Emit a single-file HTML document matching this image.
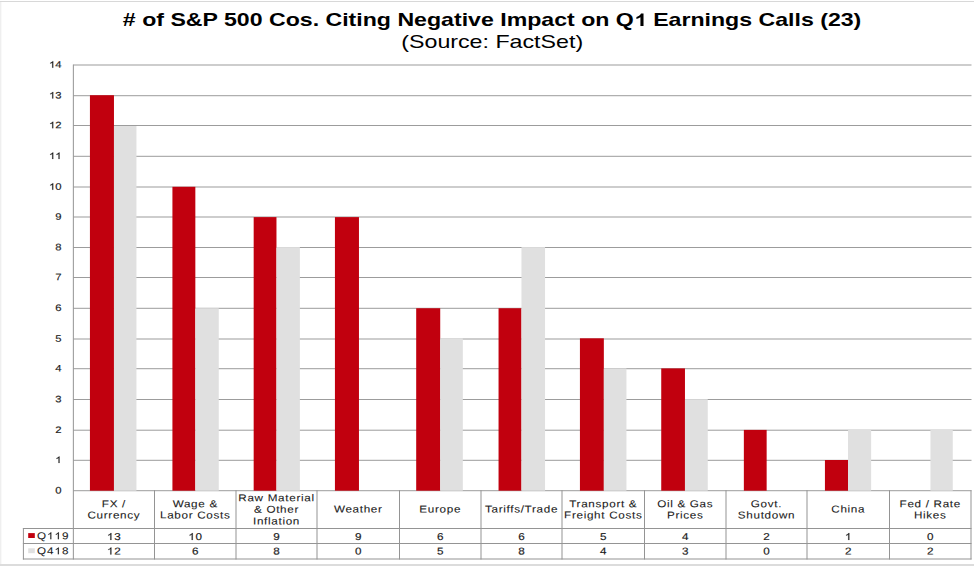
<!DOCTYPE html>
<html><head><meta charset="utf-8"><style>
html,body{margin:0;padding:0;background:#fff;width:974px;height:567px;overflow:hidden}
svg{display:block}
text{font-family:"Liberation Sans",sans-serif;fill:#1a1a1a}
.t9{font-size:9.4px;stroke:#1a1a1a;stroke-width:0.15px}
.t10{font-size:10px;stroke:#1a1a1a;stroke-width:0.08px;letter-spacing:0.58px}
.tt{font-size:18px;font-weight:bold;fill:#000}
.ts{font-size:18px;fill:#000}
.num{stroke-width:0.16px}
.h1{fill-opacity:0;stroke-opacity:0}
</style></head><body>
<svg width="974" height="567" viewBox="0 0 974 567">
<rect x="0" y="1" width="974" height="1" fill="#d8d8d8"/>
<rect x="0" y="2" width="1.4" height="562" fill="#efefef"/>
<rect x="0" y="564.1" width="974" height="1.8" fill="#d9d9d9"/>
<rect x="73.35" y="490.20" width="898.15" height="1" fill="#9c9c9c"/>
<rect x="73.35" y="459.80" width="898.15" height="1" fill="#9c9c9c"/>
<rect x="73.35" y="429.70" width="898.15" height="1" fill="#9c9c9c"/>
<rect x="73.35" y="399.00" width="898.15" height="1" fill="#9c9c9c"/>
<rect x="73.35" y="368.20" width="898.15" height="1" fill="#9c9c9c"/>
<rect x="73.35" y="338.50" width="898.15" height="1" fill="#9c9c9c"/>
<rect x="73.35" y="307.80" width="898.15" height="1" fill="#9c9c9c"/>
<rect x="73.35" y="277.00" width="898.15" height="1" fill="#9c9c9c"/>
<rect x="73.35" y="247.00" width="898.15" height="1" fill="#9c9c9c"/>
<rect x="73.35" y="216.50" width="898.15" height="1" fill="#9c9c9c"/>
<rect x="73.35" y="186.50" width="898.15" height="1" fill="#9c9c9c"/>
<rect x="73.35" y="155.80" width="898.15" height="1" fill="#9c9c9c"/>
<rect x="73.35" y="125.00" width="898.15" height="1" fill="#9c9c9c"/>
<rect x="73.35" y="95.20" width="898.15" height="1" fill="#9c9c9c"/>
<rect x="73.35" y="64.50" width="898.15" height="1" fill="#9c9c9c"/>
<rect x="89.93" y="95.20" width="24.03" height="395.50" fill="#c1000e"/>
<rect x="113.96" y="126.00" width="22.49" height="364.70" fill="#e0e0e0"/>
<rect x="172.42" y="186.80" width="22.92" height="303.90" fill="#c1000e"/>
<rect x="195.34" y="308.24" width="23.42" height="182.46" fill="#e0e0e0"/>
<rect x="253.67" y="217.10" width="22.80" height="273.60" fill="#c1000e"/>
<rect x="276.47" y="247.10" width="23.41" height="243.60" fill="#e0e0e0"/>
<rect x="334.93" y="217.10" width="24.03" height="273.60" fill="#c1000e"/>
<rect x="416.19" y="308.24" width="24.03" height="182.46" fill="#c1000e"/>
<rect x="440.22" y="338.30" width="22.61" height="152.40" fill="#e0e0e0"/>
<rect x="498.55" y="308.24" width="22.92" height="182.46" fill="#c1000e"/>
<rect x="521.47" y="247.10" width="23.59" height="243.60" fill="#e0e0e0"/>
<rect x="579.93" y="338.30" width="23.91" height="152.40" fill="#c1000e"/>
<rect x="603.84" y="368.40" width="22.61" height="122.30" fill="#e0e0e0"/>
<rect x="661.24" y="368.40" width="23.72" height="122.30" fill="#c1000e"/>
<rect x="684.96" y="399.20" width="22.80" height="91.50" fill="#e0e0e0"/>
<rect x="743.85" y="429.90" width="22.80" height="60.80" fill="#c1000e"/>
<rect x="824.93" y="460.00" width="23.10" height="30.70" fill="#c1000e"/>
<rect x="848.03" y="429.90" width="23.11" height="60.80" fill="#e0e0e0"/>
<rect x="930.45" y="429.90" width="22.31" height="60.80" fill="#e0e0e0"/>
<rect x="72.85" y="64.53" width="1" height="494.97" fill="#949494"/>
<rect x="154.00" y="490.20" width="1" height="69.30" fill="#949494"/>
<rect x="235.50" y="490.20" width="1" height="69.30" fill="#949494"/>
<rect x="316.50" y="490.20" width="1" height="69.30" fill="#949494"/>
<rect x="399.00" y="490.20" width="1" height="69.30" fill="#949494"/>
<rect x="480.50" y="490.20" width="1" height="69.30" fill="#949494"/>
<rect x="561.50" y="490.20" width="1" height="69.30" fill="#949494"/>
<rect x="644.00" y="490.20" width="1" height="69.30" fill="#949494"/>
<rect x="725.50" y="490.20" width="1" height="69.30" fill="#949494"/>
<rect x="806.50" y="490.20" width="1" height="69.30" fill="#949494"/>
<rect x="889.00" y="490.20" width="1" height="69.30" fill="#949494"/>
<rect x="970.50" y="490.20" width="1" height="69.30" fill="#949494"/>
<rect x="22.9" y="528.00" width="948.60" height="1" fill="#949494"/>
<rect x="22.9" y="543.00" width="948.60" height="1" fill="#949494"/>
<rect x="22.9" y="558.50" width="948.60" height="1" fill="#949494"/>
<rect x="22.9" y="528.00" width="1" height="31.50" fill="#949494"/>
<text transform="translate(61.6,493.40) scale(1.2,1) rotate(0.05)" text-anchor="end" class="t9">0</text>
<text transform="translate(61.6,463.00) scale(1.2,1) rotate(0.05)" text-anchor="end" class="t9"><tspan class="h1">1</tspan></text>
<text transform="translate(61.6,432.90) scale(1.2,1) rotate(0.05)" text-anchor="end" class="t9">2</text>
<text transform="translate(61.6,402.20) scale(1.2,1) rotate(0.05)" text-anchor="end" class="t9">3</text>
<text transform="translate(61.6,371.40) scale(1.2,1) rotate(0.05)" text-anchor="end" class="t9">4</text>
<text transform="translate(61.6,341.70) scale(1.2,1) rotate(0.05)" text-anchor="end" class="t9">5</text>
<text transform="translate(61.6,311.00) scale(1.2,1) rotate(0.05)" text-anchor="end" class="t9">6</text>
<text transform="translate(61.6,280.20) scale(1.2,1) rotate(0.05)" text-anchor="end" class="t9">7</text>
<text transform="translate(61.6,250.20) scale(1.2,1) rotate(0.05)" text-anchor="end" class="t9">8</text>
<text transform="translate(61.6,219.70) scale(1.2,1) rotate(0.05)" text-anchor="end" class="t9">9</text>
<text transform="translate(61.6,189.70) scale(1.2,1) rotate(0.05)" text-anchor="end" class="t9"><tspan class="h1">1</tspan>0</text>
<text transform="translate(61.6,159.00) scale(1.2,1) rotate(0.05)" text-anchor="end" class="t9"><tspan class="h1">1</tspan><tspan class="h1">1</tspan></text>
<text transform="translate(61.6,128.20) scale(1.2,1) rotate(0.05)" text-anchor="end" class="t9"><tspan class="h1">1</tspan>2</text>
<text transform="translate(61.6,98.40) scale(1.2,1) rotate(0.05)" text-anchor="end" class="t9"><tspan class="h1">1</tspan>3</text>
<text transform="translate(61.6,67.70) scale(1.2,1) rotate(0.05)" text-anchor="end" class="t9"><tspan class="h1">1</tspan>4</text>
<text transform="translate(113.92,507.20) scale(1.17,1) rotate(0.05)" text-anchor="middle" class="t10">FX /</text>
<text transform="translate(113.92,518.40) scale(1.17,1) rotate(0.05)" text-anchor="middle" class="t10">Currency</text>
<text transform="translate(114.22,540.00) scale(1.17,1) rotate(0.05)" text-anchor="middle" class="t10 num"><tspan class="h1">1</tspan>3</text>
<text transform="translate(114.22,554.40) scale(1.17,1) rotate(0.05)" text-anchor="middle" class="t10 num"><tspan class="h1">1</tspan>2</text>
<text transform="translate(195.25,507.20) scale(1.17,1) rotate(0.05)" text-anchor="middle" class="t10">Wage &amp;</text>
<text transform="translate(195.25,518.40) scale(1.17,1) rotate(0.05)" text-anchor="middle" class="t10">Labor Costs</text>
<text transform="translate(195.55,540.00) scale(1.17,1) rotate(0.05)" text-anchor="middle" class="t10 num"><tspan class="h1">1</tspan>0</text>
<text transform="translate(195.55,554.40) scale(1.17,1) rotate(0.05)" text-anchor="middle" class="t10 num">6</text>
<text transform="translate(276.50,501.20) scale(1.17,1) rotate(0.05)" text-anchor="middle" class="t10">Raw Material</text>
<text transform="translate(276.50,512.80) scale(1.17,1) rotate(0.05)" text-anchor="middle" class="t10">&amp; Other</text>
<text transform="translate(276.50,524.50) scale(1.17,1) rotate(0.05)" text-anchor="middle" class="t10">Inflation</text>
<text transform="translate(276.80,540.00) scale(1.17,1) rotate(0.05)" text-anchor="middle" class="t10 num">9</text>
<text transform="translate(276.80,554.40) scale(1.17,1) rotate(0.05)" text-anchor="middle" class="t10 num">8</text>
<text transform="translate(358.25,512.60) scale(1.17,1) rotate(0.05)" text-anchor="middle" class="t10">Weather</text>
<text transform="translate(358.55,540.00) scale(1.17,1) rotate(0.05)" text-anchor="middle" class="t10 num">9</text>
<text transform="translate(358.55,554.40) scale(1.17,1) rotate(0.05)" text-anchor="middle" class="t10 num">0</text>
<text transform="translate(440.25,512.60) scale(1.17,1) rotate(0.05)" text-anchor="middle" class="t10">Europe</text>
<text transform="translate(440.55,540.00) scale(1.17,1) rotate(0.05)" text-anchor="middle" class="t10 num">6</text>
<text transform="translate(440.55,554.40) scale(1.17,1) rotate(0.05)" text-anchor="middle" class="t10 num">5</text>
<text transform="translate(521.50,512.60) scale(1.17,1) rotate(0.05)" text-anchor="middle" class="t10">Tariffs/Trade</text>
<text transform="translate(521.80,540.00) scale(1.17,1) rotate(0.05)" text-anchor="middle" class="t10 num">6</text>
<text transform="translate(521.80,554.40) scale(1.17,1) rotate(0.05)" text-anchor="middle" class="t10 num">8</text>
<text transform="translate(603.25,507.20) scale(1.17,1) rotate(0.05)" text-anchor="middle" class="t10">Transport &amp;</text>
<text transform="translate(603.25,518.40) scale(1.17,1) rotate(0.05)" text-anchor="middle" class="t10">Freight Costs</text>
<text transform="translate(603.55,540.00) scale(1.17,1) rotate(0.05)" text-anchor="middle" class="t10 num">5</text>
<text transform="translate(603.55,554.40) scale(1.17,1) rotate(0.05)" text-anchor="middle" class="t10 num">4</text>
<text transform="translate(685.25,507.20) scale(1.17,1) rotate(0.05)" text-anchor="middle" class="t10">Oil &amp; Gas</text>
<text transform="translate(685.25,518.40) scale(1.17,1) rotate(0.05)" text-anchor="middle" class="t10">Prices</text>
<text transform="translate(685.55,540.00) scale(1.17,1) rotate(0.05)" text-anchor="middle" class="t10 num">4</text>
<text transform="translate(685.55,554.40) scale(1.17,1) rotate(0.05)" text-anchor="middle" class="t10 num">3</text>
<text transform="translate(766.50,507.20) scale(1.17,1) rotate(0.05)" text-anchor="middle" class="t10">Govt.</text>
<text transform="translate(766.50,518.40) scale(1.17,1) rotate(0.05)" text-anchor="middle" class="t10">Shutdown</text>
<text transform="translate(766.80,540.00) scale(1.17,1) rotate(0.05)" text-anchor="middle" class="t10 num">2</text>
<text transform="translate(766.80,554.40) scale(1.17,1) rotate(0.05)" text-anchor="middle" class="t10 num">0</text>
<text transform="translate(848.25,512.60) scale(1.17,1) rotate(0.05)" text-anchor="middle" class="t10">China</text>
<text transform="translate(848.55,540.00) scale(1.17,1) rotate(0.05)" text-anchor="middle" class="t10 num"><tspan class="h1">1</tspan></text>
<text transform="translate(848.55,554.40) scale(1.17,1) rotate(0.05)" text-anchor="middle" class="t10 num">2</text>
<text transform="translate(930.25,507.20) scale(1.17,1) rotate(0.05)" text-anchor="middle" class="t10">Fed / Rate</text>
<text transform="translate(930.25,518.40) scale(1.17,1) rotate(0.05)" text-anchor="middle" class="t10">Hikes</text>
<text transform="translate(930.55,540.00) scale(1.17,1) rotate(0.05)" text-anchor="middle" class="t10 num">0</text>
<text transform="translate(930.55,554.40) scale(1.17,1) rotate(0.05)" text-anchor="middle" class="t10 num">2</text>
<rect x="28.2" y="533.1" width="6.6" height="4.9" fill="#c1000e"/>
<rect x="28.2" y="548.3" width="6.6" height="4.9" fill="#e0e0e0"/>
<text transform="translate(36.9,539.2) scale(1.17,1) rotate(0.05)" class="t10" style="letter-spacing:0.85px">Q<tspan class="h1">1</tspan><tspan class="h1">1</tspan>9</text>
<text transform="translate(36.9,554.3) scale(1.17,1) rotate(0.05)" class="t10" style="letter-spacing:0.85px">Q4<tspan class="h1">1</tspan>8</text>
<text transform="translate(492.1,26) scale(1.285,1)" text-anchor="middle" class="tt">&#35; of S&amp;P 500 Cos. Citing Negative Impact on Q<tspan class="h1">1</tspan> Earnings Calls (23)</text>
<text transform="translate(492.2,47.6) scale(1.29,1)" text-anchor="middle" class="ts">(Source: FactSet)</text>
<path transform="translate(61.6,463.00) scale(1.2,1) rotate(0.05) translate(-5.234,0.000) scale(0.004590,-0.004411)" d="M763 0L583 0L583 1147Q518 1085 413 1024Q308 962 224 931L224 1105Q375 1176 488 1277Q601 1378 648 1466L763 1466Z" fill="rgb(26, 26, 26)" stroke="rgb(26, 26, 26)" stroke-width="32.7"/>
<path transform="translate(61.6,189.70) scale(1.2,1) rotate(0.05) translate(-10.468,0.000) scale(0.004590,-0.004411)" d="M763 0L583 0L583 1147Q518 1085 413 1024Q308 962 224 931L224 1105Q375 1176 488 1277Q601 1378 648 1466L763 1466Z" fill="rgb(26, 26, 26)" stroke="rgb(26, 26, 26)" stroke-width="32.7"/>
<path transform="translate(61.6,159.00) scale(1.2,1) rotate(0.05) translate(-10.468,0.000) scale(0.004590,-0.004411)" d="M763 0L583 0L583 1147Q518 1085 413 1024Q308 962 224 931L224 1105Q375 1176 488 1277Q601 1378 648 1466L763 1466Z" fill="rgb(26, 26, 26)" stroke="rgb(26, 26, 26)" stroke-width="32.7"/>
<path transform="translate(61.6,159.00) scale(1.2,1) rotate(0.05) translate(-5.234,0.000) scale(0.004590,-0.004411)" d="M763 0L583 0L583 1147Q518 1085 413 1024Q308 962 224 931L224 1105Q375 1176 488 1277Q601 1378 648 1466L763 1466Z" fill="rgb(26, 26, 26)" stroke="rgb(26, 26, 26)" stroke-width="32.7"/>
<path transform="translate(61.6,128.20) scale(1.2,1) rotate(0.05) translate(-10.468,0.000) scale(0.004590,-0.004411)" d="M763 0L583 0L583 1147Q518 1085 413 1024Q308 962 224 931L224 1105Q375 1176 488 1277Q601 1378 648 1466L763 1466Z" fill="rgb(26, 26, 26)" stroke="rgb(26, 26, 26)" stroke-width="32.7"/>
<path transform="translate(61.6,98.40) scale(1.2,1) rotate(0.05) translate(-10.468,0.000) scale(0.004590,-0.004411)" d="M763 0L583 0L583 1147Q518 1085 413 1024Q308 962 224 931L224 1105Q375 1176 488 1277Q601 1378 648 1466L763 1466Z" fill="rgb(26, 26, 26)" stroke="rgb(26, 26, 26)" stroke-width="32.7"/>
<path transform="translate(61.6,67.70) scale(1.2,1) rotate(0.05) translate(-10.468,0.000) scale(0.004590,-0.004411)" d="M763 0L583 0L583 1147Q518 1085 413 1024Q308 962 224 931L224 1105Q375 1176 488 1277Q601 1378 648 1466L763 1466Z" fill="rgb(26, 26, 26)" stroke="rgb(26, 26, 26)" stroke-width="32.7"/>
<path transform="translate(114.22,540.00) scale(1.17,1) rotate(0.05) translate(-6.145,0.000) scale(0.004883,-0.004693)" d="M763 0L583 0L583 1147Q518 1085 413 1024Q308 962 224 931L224 1105Q375 1176 488 1277Q601 1378 648 1466L763 1466Z" fill="rgb(26, 26, 26)" stroke="rgb(26, 26, 26)" stroke-width="32.8"/>
<path transform="translate(114.22,554.40) scale(1.17,1) rotate(0.05) translate(-6.145,0.000) scale(0.004883,-0.004693)" d="M763 0L583 0L583 1147Q518 1085 413 1024Q308 962 224 931L224 1105Q375 1176 488 1277Q601 1378 648 1466L763 1466Z" fill="rgb(26, 26, 26)" stroke="rgb(26, 26, 26)" stroke-width="32.8"/>
<path transform="translate(195.55,540.00) scale(1.17,1) rotate(0.05) translate(-6.145,0.000) scale(0.004883,-0.004693)" d="M763 0L583 0L583 1147Q518 1085 413 1024Q308 962 224 931L224 1105Q375 1176 488 1277Q601 1378 648 1466L763 1466Z" fill="rgb(26, 26, 26)" stroke="rgb(26, 26, 26)" stroke-width="32.8"/>
<path transform="translate(848.55,540.00) scale(1.17,1) rotate(0.05) translate(-3.072,0.000) scale(0.004883,-0.004693)" d="M763 0L583 0L583 1147Q518 1085 413 1024Q308 962 224 931L224 1105Q375 1176 488 1277Q601 1378 648 1466L763 1466Z" fill="rgb(26, 26, 26)" stroke="rgb(26, 26, 26)" stroke-width="32.8"/>
<path transform="translate(36.9,539.2) scale(1.17,1) rotate(0.05) translate(8.629,0.000) scale(0.004883,-0.004693)" d="M763 0L583 0L583 1147Q518 1085 413 1024Q308 962 224 931L224 1105Q375 1176 488 1277Q601 1378 648 1466L763 1466Z" fill="rgb(26, 26, 26)" stroke="rgb(26, 26, 26)" stroke-width="16.4"/>
<path transform="translate(36.9,539.2) scale(1.17,1) rotate(0.05) translate(15.046,0.000) scale(0.004883,-0.004693)" d="M763 0L583 0L583 1147Q518 1085 413 1024Q308 962 224 931L224 1105Q375 1176 488 1277Q601 1378 648 1466L763 1466Z" fill="rgb(26, 26, 26)" stroke="rgb(26, 26, 26)" stroke-width="16.4"/>
<path transform="translate(36.9,554.3) scale(1.17,1) rotate(0.05) translate(15.032,0.000) scale(0.004883,-0.004693)" d="M763 0L583 0L583 1147Q518 1085 413 1024Q308 962 224 931L224 1105Q375 1176 488 1277Q601 1378 648 1466L763 1466Z" fill="rgb(26, 26, 26)" stroke="rgb(26, 26, 26)" stroke-width="16.4"/>
<path transform="translate(492.1,26) scale(1.285,1) translate(110.312,0.000) scale(0.008789,-0.008447)" d="M856 0L582 0L582 1036Q431 895 227 827L227 1076Q334 1112 460 1211Q587 1310 634 1466L856 1466Z" fill="rgb(0, 0, 0)"/>
</svg>
</body></html>
